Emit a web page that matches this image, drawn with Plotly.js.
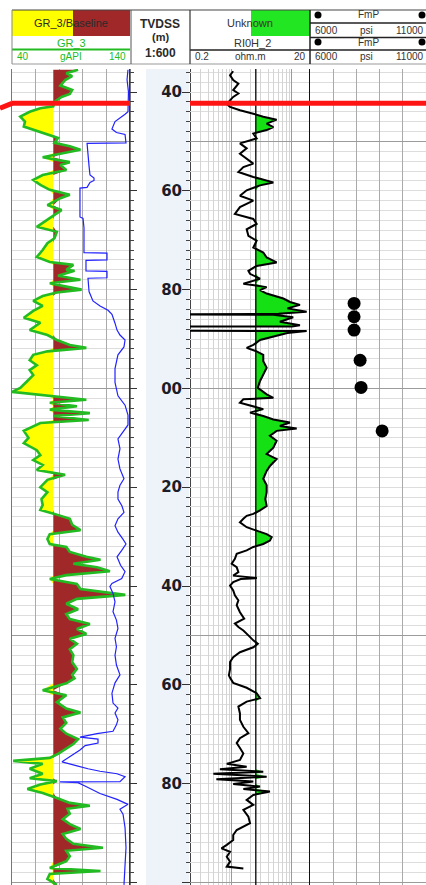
<!DOCTYPE html>
<html>
<head>
<meta charset="utf-8">
<script src="https://cdn.plot.ly/plotly-3.0.1.min.js"></script>
<style>
  html, body { margin: 0; padding: 0; background: #ffffff; overflow: hidden; }
  #plot { width: 426px; height: 885px; }
</style>
</head>
<body>
<div id="plot"></div>
<script>
// ---------- Log data (depth in m TVDSS) ----------
// Gamma ray, gAPI
const grDepth = [35.5,36.2,36.8,37.6,38.7,39.6,40.4,41.0,42.0,42.9,43.3,44.0,45.0,46.0,47.0,47.6,48.7,49.3,50.3,51.0,
  51.7,52.4,53.2,54.2,54.8,55.8,56.8,57.8,58.8,59.8,60.8,61.5,62.9,63.9,64.9,65.9,67.3,68.3,69.6,70.6,
  72.0,73.4,74.4,75.0,76.0,76.2,77.2,78.0,78.7,79.4,80.0,80.6,81.3,82.3,83.3,84.3,85.7,86.7,88.2,89.2,
  90.2,91.2,91.8,92.5,93.2,94.3,95.3,96.3,97.3,98.5,99.9,100.7,101.5,102.3,102.9,103.6,104.3,105.0,105.6,106.4,
  107.0,107.7,108.6,110.0,111.1,112.5,113.5,114.5,115.5,116.5,117.0,117.5,118.5,120.0,121.0,122.4,123.6,124.6,125.4,126.4,
  127.6,128.7,129.5,130.5,131.5,132.1,133.1,134.1,134.7,135.5,136.2,137.0,137.8,138.6,139.6,140.6,141.8,142.6,143.6,144.7,
  145.7,146.7,147.7,148.7,149.7,150.7,151.7,152.8,154.0,155.4,156.8,158.0,158.7,159.7,161.1,162.1,163.5,164.8,165.6,166.6,
  167.7,168.9,169.9,171.0,172.0,173.0,174.0,174.8,175.4,176.0,177.0,178.0,178.9,179.5,180.2,181.1,181.9,182.9,183.9,184.5,
  185.1,186.1,187.2,188.2,189.2,190.2,191.2,192.2,193.0,193.6,194.7,195.7,197.1,197.7,198.3,199.3,200.5];
const grValue = [96,86,91,85,81,91,89,82,76,75,64,55,47,51,50,58,72,79,76,89,
  98,82,66,89,81,86,66,58,64,72,89,81,70,82,76,70,61,78,76,70,
  66,61,72,92,86,93,79,98,72,86,99,78,66,58,66,58,50,64,55,70,
  78,89,103,70,58,55,61,55,58,53,47,40,72,103,72,95,72,106,75,105,
  64,58,50,54,50,61,64,58,66,61,75,85,70,64,70,65,66,64,76,89,
  91,98,72,70,72,86,89,103,115,92,112,123,86,72,95,98,136,95,86,96,
  86,89,106,95,103,89,95,89,92,91,95,91,93,86,66,86,78,86,98,83,
  86,81,86,96,92,86,79,72,41,66,55,66,55,78,64,53,66,78,89,106,
  87,89,83,89,98,83,86,92,117,86,89,86,72,115,72,70,78];
const grBaseline = 75;

// Secondary curve drawn in blue on the GR track
const auxDepth = [35.5,37.5,40.0,42.5,44.0,44.5,45.5,46.0,47.5,48.2,48.6,50.3,50.4,53.8,55.0,56.8,57.4,57.9,58.3,59.3,
  59.45,65.3,65.6,67.5,72.5,72.6,74.0,74.1,76.2,76.3,77.6,77.7,80.4,82.3,83.3,84.2,85.0,86.8,88.2,89.2,
  90.2,91.6,93.2,96.0,98.8,101.5,103.4,105.4,107.4,108.8,110.2,112.2,114.3,116.3,117.5,118.3,119.6,121.0,122.4,123.8,
  125.1,126.4,127.8,129.1,130.5,131.5,132.8,134.1,135.8,137.1,138.5,139.5,140.1,141.5,143.2,145.2,146.9,148.6,150.6,152.3,
  154.0,156.0,158.0,159.6,161.7,163.7,164.7,165.7,167.1,168.1,169.4,169.9,170.6,171.0,171.8,172.3,173.2,174.5,175.6,176.4,
  177.0,177.5,178.0,178.6,179.6,179.65,179.8,180.6,182.0,183.2,184.2,185.2,186.2,188.9,193.0,196.5,200.5];
const auxValue = [15.83,15.75,15.87,15.83,15.83,15.58,15.0,14.73,14.47,14.85,15.58,15.66,12.36,12.44,12.53,12.61,12.95,12.95,12.61,12.36,
  11.76,11.76,12.02,12.1,12.1,14.05,14.05,12.27,12.27,14.05,14.05,12.44,12.53,12.86,13.46,14.14,14.47,14.73,14.9,15.15,
  15.58,15.49,14.98,14.73,14.73,14.98,15.58,15.83,15.83,15.41,14.98,15.15,14.98,15.15,15.32,15.49,15.15,14.98,14.98,15.32,
  15.49,14.98,14.73,14.98,15.4,15.66,15.3,14.9,15.2,15.58,15.3,14.47,14.3,14.56,14.73,14.56,14.85,14.98,14.73,14.85,
  14.73,14.85,15.15,14.73,14.47,14.56,14.98,14.73,14.98,14.85,14.56,13.2,11.76,13.29,13.29,12.2,11.76,10.9,10.24,11.51,
  12.44,13.46,14.9,15.58,15.15,10.07,11.59,12.27,13.46,14.9,15.83,15.15,15.41,15.58,15.66,15.58,15.49];

// Resistivity RI0H_2, ohm.m
const resDepth = [35.8,36.6,37.6,38.3,39.6,40.3,41.0,41.7,42.4,43.0,43.7,44.4,45.0,45.6,46.4,47.1,47.7,48.4,49.4,50.4,
  51.4,52.5,53.5,54.5,55.2,56.2,57.2,58.3,58.9,59.9,61.0,62.0,63.3,64.7,65.7,66.7,67.8,69.1,70.1,71.5,
  72.5,73.5,74.5,75.2,76.2,76.8,77.8,78.8,79.5,80.1,80.8,81.8,82.5,83.1,83.8,84.5,84.9,85.0,85.1,85.6,
  86.5,87.2,87.45,87.5,88.3,88.4,88.8,89.5,90.2,91.2,91.8,92.5,93.2,94.5,95.8,97.2,98.5,99.9,101.2,101.9,
  102.2,102.9,103.6,104.2,104.9,105.6,106.3,106.9,107.6,108.1,108.6,109.6,110.6,112.0,113.3,114.3,115.7,116.7,118.3,119.6,
  121.0,122.4,123.8,124.7,125.4,125.8,126.4,127.1,128.1,128.8,129.5,130.1,130.8,131.5,132.1,132.8,133.5,134.5,135.5,136.2,
  137.2,137.9,138.4,138.6,139.2,139.9,140.9,141.9,142.9,143.9,145.3,146.6,147.6,148.3,149.0,150.0,151.0,151.7,152.4,153.4,
  154.4,155.4,156.8,158.1,158.6,159.6,160.6,161.7,162.7,163.4,164.4,165.8,167.1,168.5,169.8,170.8,171.8,172.8,173.9,175.2,
  176.0,176.6,177.1,177.6,178.0,178.6,179.1,179.6,180.1,180.6,181.1,181.6,182.3,183.3,184.3,185.3,186.7,188.0,189.4,190.4,
  191.4,192.4,193.1,193.8,194.8,195.8,196.8,197.2];
const resValue = [1.05,0.93,1.05,1.28,1.05,1.28,1.05,0.93,0.82,0.93,1.36,2.27,3.33,5.56,3.79,4.9,3.79,2.27,2.58,1.36,
  1.76,1.36,1.76,2.27,1.55,1.28,2.27,4.9,2.94,1.76,1.36,2.27,1.36,1.12,2.27,2.58,1.76,1.88,2.58,2.27,
  3.33,3.79,5.56,2.58,1.88,2.0,2.94,1.55,3.79,2.94,3.79,7.19,9.28,13.6,8.4,17.6,6.0,0.1,4.9,10.5,
  6.3,13.6,10.0,0.1,0.1,17.6,8.4,4.9,2.94,2.27,1.76,2.58,3.33,3.33,3.79,3.33,2.94,2.7,3.79,4.9,
  1.55,1.36,2.27,3.33,2.0,3.33,4.9,9.28,6.3,12.0,5.56,4.3,5.56,4.9,3.79,5.56,4.3,3.79,3.33,3.79,
  3.79,3.6,3.79,2.94,2.27,1.76,1.55,1.36,1.76,2.58,3.79,4.6,4.3,3.33,2.27,1.76,1.2,1.12,0.99,1.2,
  1.28,1.05,2.6,1.4,1.05,0.93,1.05,1.12,1.28,1.2,1.36,1.6,1.12,1.28,1.55,1.88,2.27,2.7,2.27,1.36,
  1.05,0.93,0.93,0.89,0.93,1.05,1.76,2.58,2.94,1.76,1.28,1.36,1.36,1.55,1.88,1.36,1.2,1.36,1.55,1.36,
  0.82,1.76,0.63,3.33,0.49,3.79,0.55,2.27,1.05,2.94,1.55,4.3,2.27,1.76,2.27,1.55,1.88,2.0,1.2,1.05,
  1.05,0.82,0.67,0.93,0.82,0.93,0.82,1.55];
const resCutoff = 2.5;

// Formation pressure points, psi
const fmpDepth = [82.8, 85.5, 88.2, 94.3, 99.8, 108.6];
const fmpPressure = [7900, 7900, 7900, 8160, 8200, 9110];

// Formation top
const topDepth = 42.3;

// Depth track labels
const depthTicks = [40, 60, 80, 100, 120, 140, 160, 180, 200];
const depthTickLabels = ['40', '60', '80', '00', '20', '40', '60', '80', '00'];

// Log-scale grid positions for the resistivity track
const resGridMinor = [0.2,0.3,0.4,0.5,0.6,0.7,0.8,0.9,2,3,4,5,6,7,8,9,20];
const resGridMajor = [1, 10];

// ---------- Page geometry ----------
const W = 426, H = 885;
const px = x => x / W;
const py = y => 1 - y / H;
const dataTop = 69;
const mPerPx = 1 / 4.94;
const depthRange = [40 + (H - 92) * mPerPx, 40 - (92 - dataTop) * mPerPx];
const yDom = [0, py(dataTop)];
const resRange = [Math.log10(0.2), Math.log10(20)];

const GREEN = '#22bb22', BROWN = '#a02828', YELLOW = '#ffff00', LIME = '#14e014';
const FONT = 'Liberation Sans, Arial, sans-serif';

const gridY = {
  domain: yDom, range: depthRange, showticklabels: false, ticks: '', zeroline: false,
  showgrid: true, tick0: 0, dtick: 50, gridcolor: '#9c9c9c', gridwidth: 1,
  minor: { dtick: 2, tick0: 0, showgrid: true, gridcolor: '#dddddd', gridwidth: 1 },
  fixedrange: true
};

const traces = [
  // GR track: yellow fill below baseline, brown above
  { x: grValue.map(() => grBaseline), y: grDepth, xaxis: 'x', yaxis: 'y', mode: 'lines',
    line: { width: 0 }, hoverinfo: 'skip', showlegend: false },
  { x: grValue.map(v => Math.min(v, grBaseline)), y: grDepth, xaxis: 'x', yaxis: 'y', mode: 'lines',
    line: { width: 0 }, fill: 'tonextx', fillcolor: YELLOW, showlegend: false },
  { x: grValue.map(() => grBaseline), y: grDepth, xaxis: 'x', yaxis: 'y', mode: 'lines',
    line: { width: 0 }, hoverinfo: 'skip', showlegend: false },
  { x: grValue.map(v => Math.max(v, grBaseline)), y: grDepth, xaxis: 'x', yaxis: 'y', mode: 'lines',
    line: { width: 0 }, fill: 'tonextx', fillcolor: BROWN, showlegend: false },
  { x: auxValue, y: auxDepth, xaxis: 'x2', yaxis: 'y', mode: 'lines',
    line: { color: '#2222ff', width: 1.2 }, showlegend: false },
  { x: grValue, y: grDepth, xaxis: 'x', yaxis: 'y', mode: 'lines',
    line: { color: GREEN, width: 2.6 }, showlegend: false },

  // Resistivity track: green fill above cutoff
  { x: resValue.map(() => resCutoff), y: resDepth, xaxis: 'x4', yaxis: 'y4', mode: 'lines',
    line: { width: 0 }, hoverinfo: 'skip', showlegend: false },
  { x: resValue.map(v => Math.max(v, resCutoff)), y: resDepth, xaxis: 'x4', yaxis: 'y4', mode: 'lines',
    line: { width: 0 }, fill: 'tonextx', fillcolor: LIME, showlegend: false },
  { x: resValue, y: resDepth, xaxis: 'x4', yaxis: 'y4', mode: 'lines',
    line: { color: '#000000', width: 2 }, showlegend: false },

  // Pressure track
  { x: fmpPressure, y: fmpDepth, xaxis: 'x5', yaxis: 'y5', mode: 'markers',
    marker: { color: '#000000', size: 13 }, showlegend: false },

  // empty traces so the depth-track and overlay axes are laid out
  { x: [], y: [], xaxis: 'x3', yaxis: 'y2', mode: 'lines', showlegend: false },
  { x: [], y: [], xaxis: 'x3', yaxis: 'y3', mode: 'lines', showlegend: false },
  { x: [], y: [], xaxis: 'x6', yaxis: 'y4', mode: 'lines', showlegend: false }
];

const layout = {
  width: W, height: H, margin: { l: 0, r: 0, t: 0, b: 0 },
  paper_bgcolor: '#ffffff', plot_bgcolor: 'rgba(0,0,0,0)', showlegend: false,
  font: { family: FONT, size: 11, color: '#333333' },

  xaxis: { domain: [px(12), px(130)], range: [40, 140], anchor: 'y', showticklabels: false, ticks: '',
           zeroline: false, showgrid: true, tick0: 40, dtick: 20, gridcolor: '#aaaaaa', fixedrange: true },
  xaxis2: { overlaying: 'x', anchor: 'y', range: [6, 16], visible: false, fixedrange: true },
  yaxis: Object.assign({}, gridY, { anchor: 'x', showline: true, mirror: true, linecolor: '#777777', linewidth: 1 }),

  xaxis3: { domain: [px(130), px(190)], range: [0, 1], anchor: 'y2', visible: false, fixedrange: true },
  yaxis2: { domain: yDom, range: depthRange, anchor: 'x3', side: 'right', showgrid: false, zeroline: false,
            tickmode: 'array', tickvals: depthTicks, ticktext: depthTickLabels,
            ticks: 'inside', ticklen: 8, tickcolor: '#333333', tickwidth: 1,
            ticklabelposition: 'inside',
            tickfont: { family: 'DejaVu Sans, sans-serif', size: 15, weight: 'bold', color: '#1c1c28' },
            minor: { dtick: 2, tick0: 0, ticks: 'inside', ticklen: 4, tickcolor: '#444444', showgrid: false },
            showline: true, linecolor: '#444444', linewidth: 1, fixedrange: true },
  yaxis3: { overlaying: 'y2', anchor: 'x3', side: 'left', range: depthRange, showgrid: false, zeroline: false,
            showticklabels: false, tickmode: 'array', tickvals: depthTicks,
            ticks: 'inside', ticklen: 7, tickcolor: '#333333',
            minor: { dtick: 2, tick0: 0, ticks: 'inside', ticklen: 4, tickcolor: '#444444', showgrid: false },
            showline: true, linecolor: '#333333', linewidth: 1, fixedrange: true },

  xaxis4: { domain: [px(190), px(310)], type: 'log', range: resRange, anchor: 'y4',
            showticklabels: false, ticks: '', zeroline: false, tickmode: 'array', tickvals: resGridMinor,
            showgrid: true, gridcolor: '#d4d4d4', fixedrange: true },
  xaxis6: { overlaying: 'x4', anchor: 'y4', type: 'log', range: resRange,
            showticklabels: false, ticks: '', zeroline: false, tickmode: 'array', tickvals: resGridMajor,
            showgrid: true, gridcolor: '#9a9a9a', fixedrange: true },
  yaxis4: Object.assign({}, gridY, { anchor: 'x4' }),

  xaxis5: { domain: [px(310), 1], range: [6000, 11000], anchor: 'y5', showticklabels: false, ticks: '',
            zeroline: false, showgrid: true, tick0: 6000, dtick: 1000, gridcolor: '#aaaaaa', fixedrange: true },
  yaxis5: Object.assign({}, gridY, { anchor: 'x5', showline: true, linecolor: '#111111', linewidth: 1.5 }),

  shapes: [],
  annotations: []
};

// ---------- depth track shading ----------
layout.shapes.push({ type: 'rect', xref: 'paper', yref: 'paper', x0: px(146), x1: px(189), y0: 0, y1: py(dataTop),
  fillcolor: '#eef3fa', line: { width: 0 }, layer: 'below' });

// ---------- cutoff line in resistivity track ----------
layout.shapes.push({ type: 'line', xref: 'x4', yref: 'y4 domain', x0: resCutoff, x1: resCutoff,
  y0: 0, y1: 1, line: { color: '#000000', width: 1.3 }, layer: 'above' });

// ---------- formation top ----------
const topLine = { color: '#ff1414', width: 5 };
['x', 'x4', 'x5'].forEach((ax, i) => {
  const yr = ['y', 'y4', 'y5'][i];
  layout.shapes.push({ type: 'line', xref: ax + ' domain', yref: yr, x0: 0, x1: 1, y0: topDepth, y1: topDepth,
    line: topLine, layer: 'above' });
});
layout.shapes.push({ type: 'line', xref: 'paper', yref: 'y', x0: 0, x1: px(12), y0: topDepth + 1.0, y1: topDepth,
  line: topLine, layer: 'above' });

// ---------- header ----------
function rect(x0, y0, x1, y1, fill) {
  layout.shapes.push({ type: 'rect', xref: 'paper', yref: 'paper', x0: px(x0), x1: px(x1), y0: py(y1), y1: py(y0),
    fillcolor: fill, line: { width: 0 } });
}
function hline(x0, x1, y, color, width) {
  layout.shapes.push({ type: 'line', xref: 'paper', yref: 'paper', x0: px(x0), x1: px(x1), y0: py(y), y1: py(y),
    line: { color: color, width: width } });
}
function vline(x, y0, y1, color, width) {
  layout.shapes.push({ type: 'line', xref: 'paper', yref: 'paper', x0: px(x), x1: px(x), y0: py(y0), y1: py(y1),
    line: { color: color, width: width } });
}
function dot(x, y) {
  layout.shapes.push({ type: 'circle', xref: 'paper', yref: 'paper', x0: px(x - 3.5), x1: px(x + 3.5),
    y0: py(y + 3.5), y1: py(y - 3.5), fillcolor: '#000000', line: { width: 0 } });
}
function text(s, x, y, opts) {
  opts = opts || {};
  layout.annotations.push({ xref: 'paper', yref: 'paper', x: px(x), y: py(y), text: s, showarrow: false,
    xanchor: opts.anchor || 'center', yanchor: 'middle',
    font: { family: opts.family || FONT, size: opts.size || 11, color: opts.color || '#333333',
            weight: opts.weight || 'normal' } });
}

// GR header
rect(12, 10, 73, 36, YELLOW);
rect(73, 10, 130, 36, BROWN);
text('GR_3/Baseline', 71, 23, { color: '#2a2a2a' });
text('GR_3', 71, 43, { color: GREEN });
hline(12, 130, 49.5, GREEN, 2);
text('40', 15, 57, { anchor: 'left', color: GREEN, size: 10 });
text('gAPI', 71, 57, { color: GREEN, size: 10 });
text('140', 128, 57, { anchor: 'right', color: GREEN, size: 10 });

// depth header
text('TVDSS', 160, 24, { weight: 'bold', size: 12, color: '#2a2a2a' });
text('(m)', 160, 37, { weight: 'bold', size: 11, color: '#2a2a2a' });
text('1:600', 160, 53, { weight: 'bold', size: 12, color: '#2a2a2a' });

// resistivity header
rect(251, 10, 310, 36, '#22e622');
text('Unknown', 250, 23);
text('RI0H_2', 252, 43);
hline(190, 426, 50, '#222222', 1.5);
text('0.2', 193, 57, { anchor: 'left', size: 10 });
text('ohm.m', 250, 57, { size: 10 });
text('20', 308, 57, { anchor: 'right', size: 10 });

// pressure header
dot(318, 15); dot(422, 15);
text('FmP', 368, 15, { size: 10 });
hline(310, 426, 23, '#222222', 1.5);
text('6000', 313, 31, { anchor: 'left', size: 10 });
text('psi', 366, 31, { size: 10 });
text('11000', 426, 31, { anchor: 'right', size: 10 });
hline(310, 426, 37.5, '#222222', 1.5);
dot(318, 42); dot(422, 42);
text('FmP', 368, 43, { size: 10 });
text('6000', 313, 57, { anchor: 'left', size: 10 });
text('psi', 366, 57, { size: 10 });
text('11000', 426, 57, { anchor: 'right', size: 10 });

// header frame
hline(12, 426, 10, '#444444', 1);
hline(12, 426, 64, '#999999', 1);
vline(12, 10, 64, '#888888', 1);
vline(131, 10, 64, '#555555', 1);
vline(190, 10, 64, '#333333', 1.2);
vline(310, 10, 64, '#222222', 1.5);

Plotly.newPlot('plot', traces, layout, { displayModeBar: false, staticPlot: true });
</script>
</body>
</html>
